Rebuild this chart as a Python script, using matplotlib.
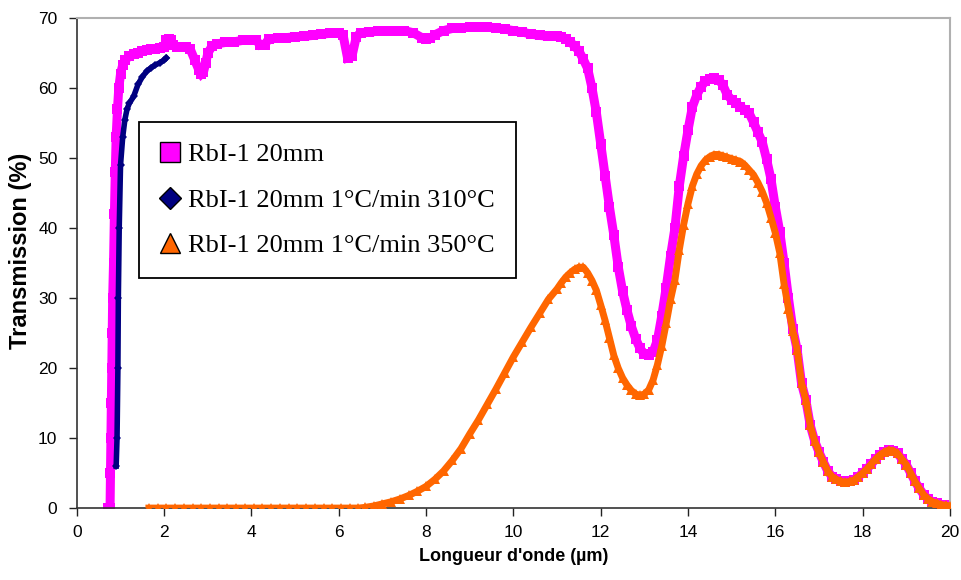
import matplotlib
matplotlib.use("Agg")
import matplotlib.pyplot as plt
from matplotlib.lines import Line2D

# RbI-1 20mm (magenta squares)
rbi_x = [0.72, 0.76, 0.77, 0.78, 0.79, 0.80, 0.81, 0.82, 0.84, 0.86, 0.88, 0.90, 0.93, 0.96,
         1.0, 1.05, 1.1, 1.2, 1.3, 1.4, 1.5, 1.6, 1.7, 1.8, 1.9, 2.0, 2.05, 2.1, 2.15, 2.2,
         2.3, 2.4, 2.5, 2.6, 2.7, 2.8, 2.85, 2.9, 2.95, 3.0, 3.1, 3.2, 3.4, 3.6, 3.8, 4.0,
         4.1, 4.2, 4.3, 4.4, 4.6, 4.8, 5.0, 5.2, 5.4, 5.6, 5.8, 6.0, 6.1, 6.2, 6.3, 6.4,
         6.5, 6.7, 6.9, 7.1, 7.3, 7.5, 7.7, 7.9, 8.0, 8.1, 8.2, 8.4, 8.6, 8.8, 9.0, 9.2,
         9.4, 9.6, 9.8, 10.0, 10.2, 10.4, 10.6, 10.8, 11.0, 11.1, 11.2, 11.3, 11.4, 11.5,
         11.6, 11.7, 11.8, 11.9, 12.0, 12.1, 12.2, 12.3, 12.4, 12.5, 12.6, 12.7, 12.8,
         12.9, 13.0, 13.1, 13.2, 13.3, 13.4, 13.5, 13.6, 13.7, 13.8, 13.9, 14.0, 14.1,
         14.2, 14.3, 14.4, 14.5, 14.6, 14.7, 14.8, 14.9, 15.0, 15.1, 15.2, 15.3, 15.4,
         15.5, 15.6, 15.7, 15.8, 15.9, 16.0, 16.1, 16.2, 16.3, 16.4, 16.5, 16.6, 16.7,
         16.8, 16.9, 17.0, 17.1, 17.2, 17.3, 17.4, 17.5, 17.6, 17.7, 17.8, 17.9, 18.0,
         18.1, 18.2, 18.3, 18.4, 18.5, 18.6, 18.7, 18.8, 18.9, 19.0, 19.1, 19.2, 19.3,
         19.4, 19.5, 19.6, 19.7, 19.8, 19.9, 20.0]
rbi_y = [0, 0, 5, 10, 15, 20, 25, 30, 35, 42, 48, 53, 57, 60,
         62, 63.3, 64, 64.5, 64.8, 65, 65.3, 65.4, 65.5, 65.6, 65.7, 65.9, 66.8, 67, 66.9, 66.2,
         65.9, 65.9, 65.8, 65.5, 64, 62.5, 62, 62.3, 63.5, 65, 66, 66.3, 66.5, 66.6, 66.8, 66.9,
         66.9, 66.1, 66.2, 67, 67.1, 67.2, 67.3, 67.4, 67.5, 67.7, 67.8, 67.9, 67.5, 64.3, 64.5, 67.3,
         67.9, 68, 68.1, 68.2, 68.2, 68.2, 67.9, 67.2, 67, 67.1, 67.6, 68.2, 68.5, 68.6, 68.7, 68.7,
         68.7, 68.6, 68.4, 68.2, 68, 67.7, 67.5, 67.4, 67.4, 67.3, 67, 66.6, 66, 65.3,
         64.1, 62.8, 60, 56.5, 52, 47.5, 43, 39, 34.5, 31, 28.3, 26, 24.2,
         22.8, 22, 21.9, 22.3, 24, 27.5, 31.5, 36, 40, 46, 50.3, 54, 57.3,
         59, 60.2, 61, 61.3, 61.4, 61.2, 60.4, 59, 58.3, 57.8, 57.3, 56.9, 56.4,
         55.1, 53.7, 52.3, 49.8, 47, 43, 39.5, 35, 30, 25.6, 22.6, 17.8, 15.4,
         11.8, 9.6, 8, 6.6, 5.3, 4.5, 4.1, 3.8, 3.7, 3.8, 4, 4.5, 5,
         5.6, 6.3, 7, 7.6, 8, 8.3, 8.2, 7.8, 7, 6.2, 5, 3.8, 2.8,
         1.9, 1.3, 0.9, 0.7, 0.5, 0.4, 0.3]

# RbI-1 20mm 1°C/min 310°C (navy diamonds)
r310_x = [0.90, 0.92, 0.94, 0.95, 0.97, 1.0, 1.05, 1.1, 1.15, 1.2, 1.3, 1.4, 1.5,
          1.6, 1.7, 1.8, 1.9, 2.0, 2.05]
r310_y = [6, 10, 20, 30, 40, 49, 53, 55.5, 57, 57.8, 58.8, 60.5, 61.6,
          62.4, 62.9, 63.3, 63.6, 64, 64.3]

# RbI-1 20mm 1°C/min 350°C (orange triangles)
r350_x = [1.65, 1.85, 2.05, 2.25, 2.45, 2.65, 2.85, 3.05, 3.25, 3.45, 3.65, 3.85, 4.05,
          4.25, 4.45, 4.65, 4.85, 5.05, 5.25, 5.45, 5.65, 5.85, 6.05, 6.25, 6.45,
          6.6, 6.8, 7.0, 7.2, 7.4, 7.6, 7.8, 8.0, 8.2, 8.4, 8.6, 8.8, 9.0, 9.2, 9.4, 9.6,
          9.8, 10.0, 10.2, 10.4, 10.6, 10.8, 11.0, 11.1, 11.2, 11.3, 11.4, 11.5, 11.6,
          11.7, 11.8, 11.9, 12.0, 12.1, 12.2, 12.3, 12.4, 12.5, 12.6, 12.7, 12.8, 12.9,
          13.0, 13.1, 13.2, 13.3, 13.4, 13.5, 13.6, 13.7, 13.8, 13.9, 14.0, 14.1, 14.2,
          14.3, 14.4, 14.5, 14.6, 14.7, 14.8, 14.9, 15.0, 15.1, 15.2, 15.3, 15.4, 15.5,
          15.6, 15.7, 15.8, 15.9, 16.0, 16.1, 16.2, 16.3, 16.4, 16.5, 16.6, 16.7, 16.8,
          16.9, 17.0, 17.1, 17.2, 17.3, 17.4, 17.5, 17.6, 17.7, 17.8, 17.9, 18.0, 18.1,
          18.2, 18.3, 18.4, 18.5, 18.6, 18.7, 18.8, 18.9, 19.0, 19.1, 19.2, 19.3, 19.4,
          19.5, 19.6, 19.7, 19.8, 19.9, 20.0]
r350_y = [0, 0, 0, 0, 0, 0, 0, 0, 0, 0, 0, 0, 0,
          0, 0, 0, 0, 0, 0, 0, 0, 0, 0, 0, 0,
          0.1, 0.3, 0.6, 0.9, 1.3, 1.8, 2.4, 3.1, 4.1, 5.3, 6.8, 8.5, 10.6, 12.6, 14.8, 17,
          19.3, 21.6, 23.7, 25.8, 27.8, 29.8, 31.3, 32.2, 33, 33.6, 34.1, 34.4, 34.4,
          33.6, 32.5, 31.1, 29, 26.8, 24.3, 21.8, 20, 18.6, 17.6, 16.8, 16.3, 16.1,
          16.3, 16.9, 18.3, 20.5, 23.2, 26.4, 29.8, 32.6, 36.9, 40.5, 43.5, 46, 47.7,
          48.9, 49.7, 50.2, 50.5, 50.5, 50.3, 50.1, 49.9, 49.7, 49.5, 49, 48.3, 47.6,
          46.5, 45.2, 43.6, 41.5, 39.3, 36.5, 32, 28.5, 25.3, 22.6, 17.8, 15.4, 11.8,
          9.6, 8, 6.6, 5.3, 4.5, 4.1, 3.8, 3.7, 3.8, 4, 4.5, 5, 5.6,
          6.3, 7, 7.6, 8, 8.3, 8.2, 7.8, 7, 6.2, 5, 3.8, 2.8, 1.9,
          1.3, 0.9, 0.7, 0.5, 0.4, 0.3]

labels = ["RbI-1 20mm", "RbI-1 20mm 1°C/min 310°C", "RbI-1 20mm 1°C/min 350°C"]
magenta = "#FF00FF"
navy = "#000080"
orange = "#FF6600"

plt.rcParams['font.family'] = ['Liberation Sans', 'DejaVu Sans']

fig = plt.figure(figsize=(9.61, 5.8), dpi=100)
ax = fig.add_axes([0.080, 0.124, 0.9085, 0.845])

# dense measured points: thick band + markers
ax.plot(rbi_x, rbi_y, linestyle="-", linewidth=6.5, marker="s", markersize=7.5,
        color=magenta, markeredgewidth=0, solid_joinstyle="miter", zorder=2)
ax.plot(r310_x, r310_y, linestyle="-", linewidth=4, marker="D", markersize=4.5,
        color=navy, markeredgewidth=0, zorder=3)
ax.plot(r350_x, r350_y, linestyle="-", linewidth=5, marker="^", markersize=7.5,
        color=orange, markeredgewidth=0, zorder=4)

ax.set_xlim(0, 20)
ax.set_ylim(0, 70)
ax.set_xticks(range(0, 21, 2))
ax.set_yticks(range(0, 71, 10))
ax.tick_params(direction="out", length=6, width=1, labelsize=12.5, colors="#222222", pad=6)
ax.tick_params(axis="y", pad=8)
for lab in ax.get_xticklabels() + ax.get_yticklabels():
    lab.set_color("black")

for side in ["left", "bottom"]:
    ax.spines[side].set_color("#333333")
    ax.spines[side].set_linewidth(1.2)
for side in ["top", "right"]:
    ax.spines[side].set_color("#b0b0b0")
    ax.spines[side].set_linewidth(1.5)

ax.set_xlabel("Longueur d'onde (µm)", fontsize=13, fontweight="bold", labelpad=6)
ax.set_ylabel("Transmission (%)", fontsize=17, fontweight="bold")
ax.yaxis.set_label_coords(-0.051, 0.524)

handles = [
    Line2D([], [], linestyle="none", marker="s", markersize=14, markerfacecolor=magenta,
           markeredgecolor="black", markeredgewidth=1),
    Line2D([], [], linestyle="none", marker="D", markersize=11, markerfacecolor=navy,
           markeredgecolor="black", markeredgewidth=1),
    Line2D([], [], linestyle="none", marker="^", markersize=14, markerfacecolor=orange,
           markeredgecolor="black", markeredgewidth=1),
]
leg = ax.legend(handles, labels, loc="upper left", bbox_to_anchor=(0.071, 0.788),
                prop={"family": "Liberation Serif", "size": 19}, frameon=True,
                fancybox=False, edgecolor="black", framealpha=1,
                handlelength=0.75, handletextpad=0.3, labelspacing=0.83,
                borderpad=0.8, borderaxespad=0)
leg.get_frame().set_linewidth(1.3)

fig.savefig("out.png", dpi=100)
